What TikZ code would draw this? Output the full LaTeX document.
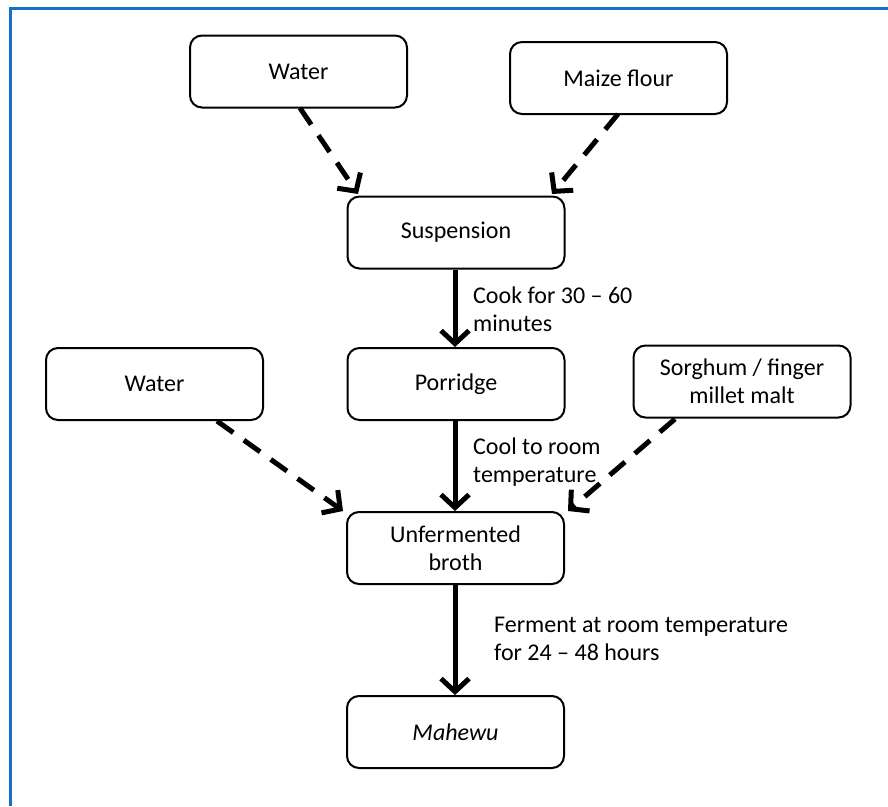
\documentclass[tikz,border=0pt]{standalone}
\usepackage{fontspec}
\setmainfont{Carlito}
\usetikzlibrary{arrows.meta}
\definecolor{frameblue}{RGB}{20,112,200}
\begin{document}
\begin{tikzpicture}[x=1pt,y=-1pt,
  box/.style={draw, line width=2pt, rounded corners=12pt, align=center,
    inner sep=0pt, minimum width=217pt, minimum height=72pt,
    font=\fontsize{24}{28}\selectfont},
  lbl/.style={anchor=base west, align=left, inner sep=0pt,
    font=\fontsize{24}{28}\selectfont},
  solidarrow/.style={line width=5pt, -{Straight Barb[length=13pt,width=28pt]}},
  dasharrow/.style={line width=5pt, dash pattern=on 20pt off 13pt,
    -{Straight Barb[length=13pt,width=28pt]}}]
\useasboundingbox (0,0) rectangle (888,806);
\fill[white] (0,0) rectangle (888,806);
\draw[frameblue, line width=3pt] (10.5,806) -- (10.5,8.5) -- (888,8.5);

\node[box] (water1) at (298.5,71.5) {Water};
\node[box] (maize) at (618.5,78) {Maize flour};
\node[box] (susp) at (456,232.5) {Suspension};
\node[box] (porr) at (456,384) {Porridge};
\node[box] (water2) at (154.5,384) {Water};
\node[box] (sorg) at (742,381.5) {Sorghum / finger\\millet malt};
\node[box] (broth) at (455.5,548) {Unfermented\\broth};
\node[box] (mahewu) at (455.5,732) {\itshape Mahewu};

\coordinate (w1s) at (300,108);
\coordinate (mzs) at (618,114);
\coordinate (w2s) at (217,421);
\coordinate (sgs) at (675,419);
\coordinate (t1) at (358,194);
\coordinate (t2) at (552,194);
\coordinate (t3) at (343,511);
\coordinate (t4) at (568,511);

\draw[dasharrow] (w1s) -- (t1);
\draw[dasharrow] (mzs) -- (t2);
\draw[dasharrow] (w2s) -- (t3);
\draw[dasharrow] (sgs) -- (t4);

\draw[solidarrow] (susp.south -| 455,0) -- (porr.north -| 455,0);
\draw[solidarrow] (porr.south -| 455,0) -- (broth.north -| 455,0);
\draw[solidarrow] (broth.south -| 455,0) -- (mahewu.north -| 455,0);

\node[lbl] (l1) at (473,331) {Cook for 30 – 60\\minutes};
\node[lbl] (l2) at (473,482) {Cool to room\\temperature};
\node[lbl] (l3) at (494,660) {Ferment at room temperature\\for 24 – 48 hours};
\end{tikzpicture}
\end{document}
